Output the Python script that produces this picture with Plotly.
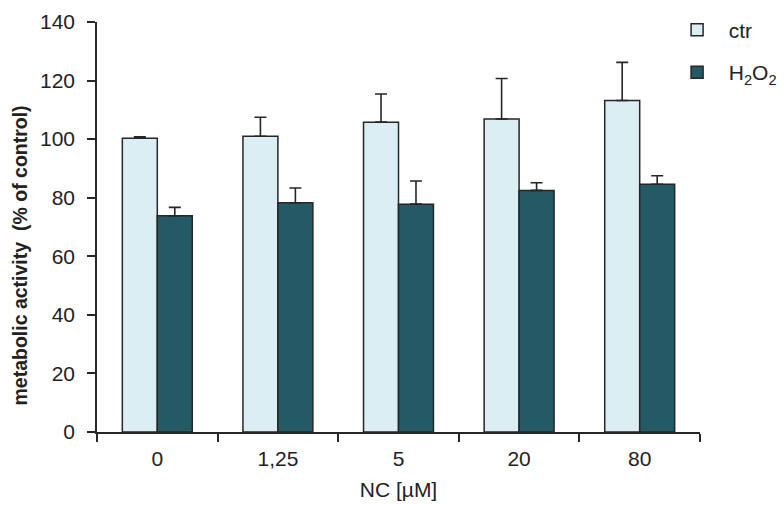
import plotly.graph_objects as go

categories = ["0", "1,25", "5", "20", "80"]
ctr_values = [100.3, 101.0, 105.8, 106.9, 113.2]
ctr_errors = [0.5, 6.5, 9.6, 13.8, 13.0]
h2o2_values = [73.8, 78.3, 77.8, 82.5, 84.6]
h2o2_errors = [2.9, 5.0, 7.9, 2.6, 2.9]

y_ticks = [0, 20, 40, 60, 80, 100, 120, 140]

edge = "#262626"
font_family = "Liberation Sans, Arial, sans-serif"
fig = go.Figure()
fig.add_trace(go.Bar(
    x=categories, y=ctr_values, name="\u00a0\u00a0ctr", legendgroup="a",
    marker=dict(color="#dbeef4", line=dict(color=edge, width=1.5)),
    error_y=dict(type="data", array=ctr_errors, symmetric=False,
                 arrayminus=[0] * len(ctr_errors), color=edge, thickness=1.6, width=6),
))
fig.add_trace(go.Bar(
    x=categories, y=h2o2_values, name="\u00a0\u00a0H<sub>2</sub>O<sub>2</sub>", legendgroup="b",
    marker=dict(color="#235a66", line=dict(color=edge, width=1.5)),
    error_y=dict(type="data", array=h2o2_errors, symmetric=False,
                 arrayminus=[0] * len(h2o2_errors), color=edge, thickness=1.6, width=6),
))

fig.add_annotation(
    text="<b>metabolic activity  (% of control)</b>",
    xref="paper", yref="paper", x=-0.128, y=0.43,
    xanchor="center", yanchor="middle", textangle=-90, showarrow=False,
    font=dict(family=font_family, size=19.5, color="#222"),
)

fig.update_layout(
    width=784, height=505,
    margin=dict(l=97, r=84, t=22, b=73, autoexpand=False),
    paper_bgcolor="white", plot_bgcolor="white",
    font=dict(family=font_family, size=21, color="#222"),
    barmode="group", bargap=0.42, bargroupgap=0,
    showlegend=True,
    legend=dict(x=0.962, y=1.03, xanchor="left", yanchor="top",
                font=dict(size=21), tracegroupgap=12, bgcolor="rgba(0,0,0,0)"),
    xaxis=dict(
        title=dict(text="NC [µM]", font=dict(size=21), standoff=13),
        showline=True, linecolor=edge, linewidth=1.5,
        ticks="outside", tickson="boundaries", ticklen=8, tickcolor=edge, tickwidth=1.5,
        ticklabelstandoff=7, tickfont=dict(size=21),
        showgrid=False,
    ),
    yaxis=dict(
        range=[0, 140], tickvals=y_ticks, showline=True, linecolor=edge, linewidth=1.5,
        ticks="outside", ticklen=8, tickcolor=edge, tickwidth=1.5,
        ticklabelstandoff=8, tickfont=dict(size=21),
        showgrid=False, zeroline=False,
    ),
)

fig.write_html("out.html")
